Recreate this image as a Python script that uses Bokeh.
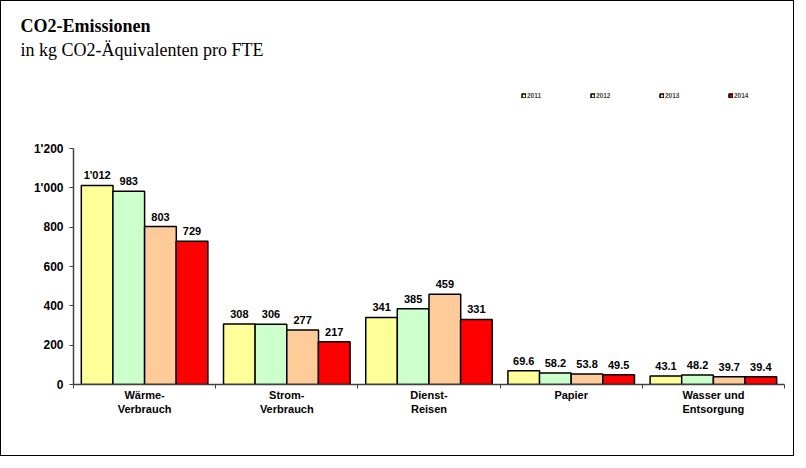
from bokeh.plotting import figure
from bokeh.models import Range1d, FixedTicker, Title, Legend, LegendItem
from bokeh.core.properties import value
from bokeh.embed import file_html
from bokeh.resources import INLINE

# ---- data ----
categories = ["Wärme-\nVerbrauch", "Strom-\nVerbrauch", "Dienst-\nReisen", "Papier", "Wasser und\nEntsorgung"]
years = ["2011", "2012", "2013", "2014"]
v2011 = [1012, 308, 341, 69.6, 43.1]
v2012 = [983, 306, 385, 58.2, 48.2]
v2013 = [803, 277, 459, 53.8, 39.7]
v2014 = [729, 217, 331, 49.5, 39.4]
y_ticks = [0, 200, 400, 600, 800, 1000, 1200]
y_tick_labels = ["0", "200", "400", "600", "800", "1'000", "1'200"]
title_text = "CO2-Emissionen"
subtitle_text = "in kg CO2-Äquivalenten pro FTE"

series = [v2011, v2012, v2013, v2014]
colors = ["#FFFF99", "#CCFFCC", "#FFCC99", "#FF0000"]
offsets = [-0.3335, -0.1115, 0.1115, 0.3335]
bar_w = 0.223


def fmt(v):
    if v >= 100:
        return f"{int(round(v)):,}".replace(",", "'")
    return f"{v:.1f}"


# layout: the frame reaches up to the legend row; the value axis only spans 0..1200
H, TOP, BOTTOM = 456, 58, 73
frame_h = H - TOP - BOTTOM
axis_px = 236  # pixel height of the 0..1200 span
y_max = y_ticks[-1]

p = figure(width=794, height=H, output_backend="svg", toolbar_location=None,
           title=None,
           x_range=Range1d(0, 5), y_range=Range1d(0, y_max * frame_h / axis_px),
           min_border_left=72, min_border_right=11, min_border_top=TOP, min_border_bottom=BOTTOM)
p.styles = {"border": "1px solid black"}
p.outline_line_color = None
p.xgrid.visible = False
p.ygrid.visible = False
p.background_fill_color = "white"
p.border_fill_color = "white"

n = len(categories)
renderers = []
for k, vals in enumerate(series):
    xs = [i + 0.5 + offsets[k] for i in range(n)]
    r = p.vbar(x=xs, top=vals, width=bar_w, fill_color=colors[k],
               line_color="black", line_width=1.5)
    renderers.append(r)
    p.text(x=xs, y=vals, text=[fmt(v) for v in vals], text_align="center",
           text_baseline="alphabetic", y_offset=-10,
           text_font=value("Liberation Sans"), text_font_style="bold",
           text_font_size="11px", text_color="black")

axis_color = "#404040"
xa = p.xaxis[0]
xa.ticker = FixedTicker(ticks=[i + 0.5 for i in range(n)], minor_ticks=list(range(n + 1)))
xa.major_label_overrides = {i + 0.5: c for i, c in enumerate(categories)}
xa.major_tick_line_color = None
xa.major_tick_out = 0
xa.major_tick_in = 0
xa.minor_tick_line_color = axis_color
xa.minor_tick_out = 4
xa.minor_tick_in = 0
xa.axis_line_color = axis_color
xa.axis_line_width = 1.5
xa.major_label_standoff = 0
xa.major_label_text_font = "Liberation Sans"
xa.major_label_text_font_style = "bold"
xa.major_label_text_font_size = "11px"
xa.major_label_text_color = "black"

ya = p.yaxis[0]
ya.ticker = FixedTicker(ticks=y_ticks, minor_ticks=[])
ya.bounds = (0, y_max)
ya.major_label_overrides = {t: l for t, l in zip(y_ticks, y_tick_labels)}
ya.major_tick_out = 4
ya.major_tick_in = 0
ya.major_tick_line_color = axis_color
ya.minor_tick_line_color = None
ya.axis_line_color = axis_color
ya.axis_line_width = 1.5
ya.major_label_standoff = 6
ya.major_label_text_font = "Liberation Sans"
ya.major_label_text_font_style = "bold"
ya.major_label_text_font_size = "12px"
ya.major_label_text_color = "black"

legend = Legend(items=[LegendItem(label=y, renderers=[r]) for y, r in zip(years, renderers)],
                orientation="horizontal", location=(448, 285),
                glyph_width=5, glyph_height=5, label_text_font_size="6.5px",
                label_text_font="Liberation Sans", label_text_font_style="bold",
                label_standoff=1, label_width=57, label_height=8, spacing=6,
                padding=0, margin=0, border_line_color=None, background_fill_alpha=0)
p.add_layout(legend, "center")

p.add_layout(Title(text=subtitle_text, text_font="Liberation Serif", text_font_style="normal",
                   text_font_size="18px", align="left", offset=-53, standoff=0,
                   text_color="black"), "above")
p.add_layout(Title(text=title_text, text_font="Liberation Serif", text_font_style="bold",
                   text_font_size="18px", align="left", offset=-53, standoff=4,
                   text_color="black"), "above")

open("out.html", "w").write(file_html(p, INLINE))
